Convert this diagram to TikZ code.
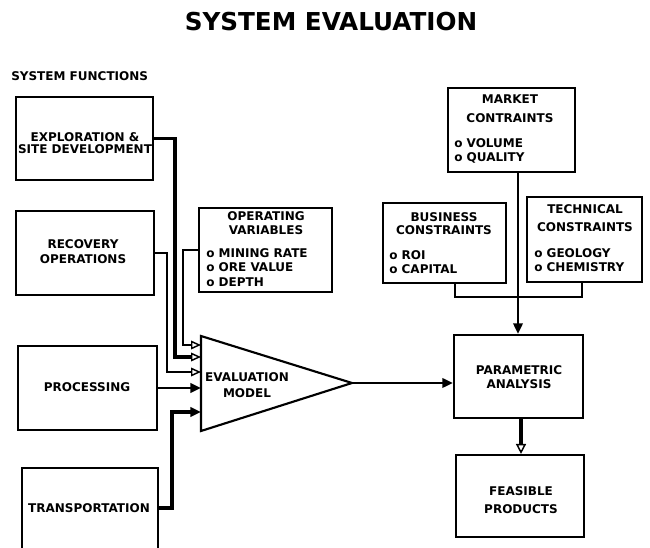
\documentclass[tikz,border=0pt]{standalone}
\usepackage{fontspec}
\setmainfont{DejaVu Sans}
\usetikzlibrary{arrows.meta,fit}

\begin{document}
\begin{tikzpicture}[x=0.75pt,y=-0.75pt,
  boxline/.style={line width=1.6pt, line join=miter},
  box/.style={draw, boxline, inner sep=0pt},
  lbl/.style={font=\bfseries\fontsize{9}{11}\selectfont, align=center, inner sep=0pt},
  lst/.style={lbl, align=left, anchor=west},
  conn/.style={line width=2pt, line join=miter},
  heavy/.style={line width=2.8pt, line join=miter},
  openhead/.style={-{Triangle[open,length=7.5pt,width=6.5pt,line width=1.1pt]}},
  filledhead/.style={-{Triangle[length=8pt,width=7pt]}},
]
\useasboundingbox (0,0) rectangle (650,548);

% headings
\node[font=\bfseries\fontsize{18.5}{20}\selectfont, inner sep=0pt] (title) at (331,22) {SYSTEM EVALUATION};
\node[lbl, anchor=west] (sysfun) at (11,76) {SYSTEM FUNCTIONS};

% system function boxes
\node[box, fit={(16,97)(153,180)}] (expl) {};
\node[lbl] (explT) at (85,143) {EXPLORATION \&\\[-1.5pt]SITE DEVELOPMENT};
\node[box, fit={(16,211)(154,295)}] (recov) {};
\node[lbl] (recovT) at (83,251.5) {RECOVERY\\[0.25pt]OPERATIONS};
\node[box, fit={(18,346)(157,430)}] (proc) {};
\node[lbl] (procT) at (87,387) {PROCESSING};
\node[fit={(22,468)(158,548)}, inner sep=0pt] (trans) {};
\draw[boxline] (trans.south west) |- (trans.north east) -- (trans.south east);
\node[lbl] (transT) at (89,508) {TRANSPORTATION};

% operating variables
\node[box, fit={(199,208)(332,292)}] (opv) {};
\node[lbl] (opvhead) at (266,223) {OPERATING\\[0pt]VARIABLES};
\node[lst] (opvlist) at (206,267.5) {o MINING RATE\\[-0.1pt]o ORE VALUE\\[-0.1pt]o DEPTH};

% evaluation model
\coordinate (ta) at (201,336);
\coordinate (tb) at (201,431);
\coordinate (tip) at (352,383);
\draw[boxline] (ta) -- (tip) -- (tb) -- cycle;
\node[lbl] (evm) at (247,385.5) {EVALUATION\\[1pt]MODEL};

% inputs of the model
\coordinate (in1) at (201,345);
\coordinate (in2) at (201,357);
\coordinate (in3) at (201,372);
\coordinate (in4) at (201,388);
\coordinate (in5) at (201,412);
\coordinate (v1) at (183,0);
\coordinate (v2) at (175,0);
\coordinate (v3) at (167,0);
\coordinate (v5) at (172,0);

\draw[conn, openhead] (opv.west) -| (v1 |- in1) -- (in1);
\draw[heavy, openhead] (expl.east) -| (v2 |- in2) -- (in2);
\draw[conn, openhead] (recov.east) -| (v3 |- in3) -- (in3);
\draw[conn, filledhead] (proc.east |- in4) -- (in4);
\draw[heavy, filledhead] (trans.east) -| (v5 |- in5) -- (in5);

% constraints
\node[box, fit={(448,88)(575,172)}] (market) {};
\node[lbl] (markethead) at (510,108.5) {MARKET\\[3.25pt]CONTRAINTS};
\node[lst] (marketlist) at (454,151) {o VOLUME\\[-0.5pt]o QUALITY};

\node[box, fit={(383,203)(506,283)}] (bus) {};
\node[lbl] (bushead) at (444,223.5) {BUSINESS\\[-1.25pt]CONSTRAINTS};
\node[lst] (buslist) at (389,262) {o ROI\\[-0.5pt]o CAPITAL};

\node[box, fit={(527,197)(642,282)}] (tech) {};
\node[lbl] (techhead) at (585,218) {TECHNICAL\\[2.5pt]CONSTRAINTS};
\node[lst] (techlist) at (534,260) {o GEOLOGY\\[-0.5pt]o CHEMISTRY};

% analysis and result
\node[box, fit={(454,335)(583,418)}] (param) {};
\node[lbl] (paramT) at (519,377.5) {PARAMETRIC\\[-0.5pt]ANALYSIS};
\node[box, fit={(456,455)(584,537)}] (feas) {};
\node[lbl] (feasT) at (521,500.5) {FEASIBLE\\[2.5pt]PRODUCTS};

\coordinate (mx) at (518,0);
\coordinate (fx) at (521,0);
\coordinate (bk) at (455,297);
\coordinate (tk) at (582,297);

\draw[conn] (bus.south -| bk) -- (bk) -- (tk) -- (tech.south -| tk);
\draw[conn, filledhead] (market.south -| mx) -- (param.north -| mx);
\draw[conn, filledhead] (tip) -- (tip -| param.west);
\draw[heavy, -{Triangle[open,length=7.5pt,width=7.5pt,line width=1.1pt]}] (param.south -| fx) -- (feas.north -| fx);
\end{tikzpicture}
\end{document}
